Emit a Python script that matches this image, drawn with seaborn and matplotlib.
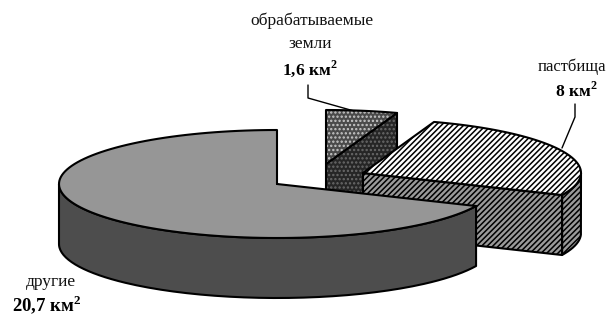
import numpy as np
import matplotlib
matplotlib.use('Agg')
import matplotlib.pyplot as plt
import seaborn as sns

# land use values, km2
labels = ['обрабатываемые', 'земли', 'пастбища', 'другие']
areas = [20.7, 8, 1.6]
area_labels = ['20,7 км$^{\\mathbf{2}}$', '8 км$^{\\mathbf{2}}$', '1,6 км$^{\\mathbf{2}}$']

sns.set_theme(style='white')
plt.rcParams['font.family'] = ['Liberation Serif', 'DejaVu Sans']
plt.rcParams['mathtext.fontset'] = 'custom'
plt.rcParams['mathtext.bf'] = 'Liberation Serif:bold'
plt.rcParams['hatch.linewidth'] = 1.1

fig = plt.figure(figsize=(6.1, 3.2), dpi=100)
ax = fig.add_axes([0, 0, 1, 1])
ax.set_xlim(0, 610)
ax.set_ylim(320, 0)
ax.axis('off')

rx, ry, depth = 218, 54, 60
centers = [(277, 184), (363, 173), (326, 164)]

# slice angles go counterclockwise from 12 o'clock
fractions = np.array(areas) / sum(areas)
edges = 90 + 360 * np.concatenate([[0], np.cumsum(fractions)])


def arc(cx, cy, a0, a1, n=120):
    t = np.radians(np.linspace(a0, a1, n))
    return cx + rx * np.cos(t), cy - ry * np.sin(t)


def shape(xs, ys, face, hatch=None, hatch_color='black', z=1):
    ax.fill(xs, ys, facecolor=face, edgecolor=hatch_color, hatch=hatch, lw=0, zorder=z)
    ax.plot(np.r_[xs, xs[0]], np.r_[ys, ys[0]], color='black', lw=1.5, zorder=z + 0.1,
            solid_joinstyle='round')


def wedge(i, top, side, top_hatch=None, side_hatch=None, top_hc='black', side_hc='black', z=1):
    cx, cy = centers[i]
    a0, a1 = edges[i], edges[i + 1]
    x, y = arc(cx, cy, a0, a1)
    # cut face at the start of the slice
    if i > 0:
        ex, ey = arc(cx, cy, a0, a0, 1)
        shape(np.r_[cx, ex, ex, cx], np.r_[cy, ey, ey + depth, cy + depth], side, side_hatch, side_hc, z)
    # rim is only seen on the lower half of the ellipse
    t0, t1 = a0, a1
    if i == 0:
        t0, t1 = 180, edges[1]
    if i == 1:
        t0, t1 = a0, 360
    if i != 2:
        rim_x, rim_y = arc(cx, cy, t0, t1)
        shape(np.r_[rim_x, rim_x[::-1]], np.r_[rim_y, rim_y[::-1] + depth], side, side_hatch, side_hc, z)
    shape(np.r_[cx, x], np.r_[cy, y], top, top_hatch, top_hc, z + 0.2)


wedge(2, '#4a4a4a', '#262626', '....', '....', '#c8c8c8', '#6a6a6a', z=1)
wedge(1, 'white', '#9a9a9a', '//////', '//////', 'black', 'black', z=2)
wedge(0, '#969696', '#4d4d4d', z=3)

# leader lines
ax.plot([308, 308, 354], [85, 98, 111], color='black', lw=1.0, zorder=5)
ax.plot([575, 575, 562], [104, 117, 148], color='black', lw=1.0, zorder=5)

fs = 12.5
ax.text(312, 21, labels[0], ha='center', va='center', fontsize=fs, color='#111111')
ax.text(310, 44, labels[1], ha='center', va='center', fontsize=fs, color='#111111')
ax.text(310, 69, area_labels[2], ha='center', va='center', fontsize=fs, fontweight='bold', color='black')
ax.text(572, 67, labels[2], ha='center', va='center', fontsize=12, color='#111111')
ax.text(576, 91, area_labels[1], ha='center', va='center', fontsize=fs, fontweight='bold', color='black')
ax.text(51, 282, labels[3], ha='center', va='center', fontsize=fs, color='#111111')
ax.text(47, 305, area_labels[0], ha='center', va='center', fontsize=13.5, fontweight='bold', color='black')

fig.savefig('out.png', dpi=100, facecolor='white')
